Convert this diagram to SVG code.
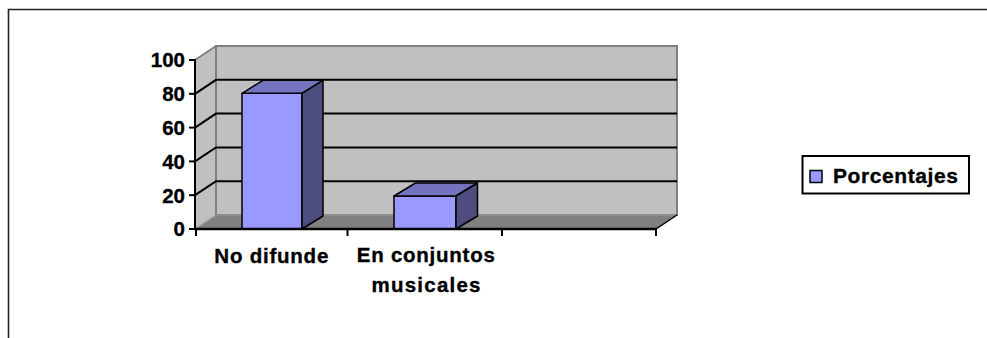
<svg xmlns="http://www.w3.org/2000/svg" width="987" height="338" viewBox="0 0 987 338">
<style>
  text { font-family: "Liberation Sans", Arial, sans-serif; font-weight: bold; font-size: 20.5px; fill: #000; stroke: #000; stroke-width: 0.35; }
  .ylab { text-anchor: end; }
  .clab { text-anchor: middle; }
  .grid { stroke: #000; stroke-width: 2; fill: none; }
  .edge { stroke: #000; stroke-width: 1.5; stroke-linejoin: round; }
  .front { fill: #9999FF; }
  .top { fill: #7373C0; }
  .side { fill: #4D4D80; }
  .tick { stroke: #000; stroke-width: 2; }
</style>
<rect width="987" height="338" fill="#fff"/>
<path d="M8.5,338 V9.5 H987" fill="none" stroke="#222" stroke-width="1.6"/>

<g id="plot-area">
  <polygon points="195,60 216,46 216,215 195,229" fill="#C0C0C0"/>
  <rect x="216" y="46" width="461" height="169" fill="#C0C0C0" stroke="#808080" stroke-width="2"/>
  <polygon points="195,229 656,229 677,215 216,215" fill="#808080"/>
  <line x1="216" y1="215" x2="677" y2="215" stroke="#9a9a9a" stroke-width="1"/>
  <line x1="195" y1="229" x2="216" y2="215" stroke="#a0a0a0" stroke-width="1.5"/>
  <line x1="195" y1="60" x2="216" y2="46" stroke="#808080" stroke-width="2"/>
  <g class="grid">
    <polyline points="195,93.8 216,79.8 677,79.8"/>
    <polyline points="195,127.6 216,113.6 677,113.6"/>
    <polyline points="195,161.4 216,147.4 677,147.4"/>
    <polyline points="195,195.2 216,181.2 677,181.2"/>
  </g>
  <line x1="656" y1="229" x2="677" y2="215" stroke="#000" stroke-width="1.5"/>
</g>

<g id="bar-no-difunde" class="edge">
  <rect class="front" x="242" y="93.3" width="60" height="135.7"/>
  <polygon class="top" points="242,93.3 302,93.3 323,80.3 263,80.3"/>
  <polygon class="side" points="302,93.3 323,80.3 323,216 302,229"/>
</g>

<g id="bar-en-conjuntos" class="edge">
  <rect class="front" x="394" y="196" width="62" height="33"/>
  <polygon class="top" points="394,196 456,196 477.5,183 415.5,183"/>
  <polygon class="side" points="456,196 477.5,183 477.5,216 456,229"/>
</g>

<g id="axes">
  <line x1="195" y1="59" x2="195" y2="230" stroke="#000" stroke-width="2"/>
  <line x1="194" y1="229" x2="657" y2="229" stroke="#000" stroke-width="2.5"/>
  <g class="tick">
    <line x1="189" y1="60" x2="195" y2="60"/>
    <line x1="189" y1="93.8" x2="195" y2="93.8"/>
    <line x1="189" y1="127.6" x2="195" y2="127.6"/>
    <line x1="189" y1="161.4" x2="195" y2="161.4"/>
    <line x1="189" y1="195.2" x2="195" y2="195.2"/>
    <line x1="189" y1="229" x2="195" y2="229"/>
    <line x1="196" y1="229" x2="196" y2="236"/>
    <line x1="347.5" y1="229" x2="347.5" y2="236"/>
    <line x1="502" y1="229" x2="502" y2="236"/>
    <line x1="656" y1="229" x2="656" y2="236"/>
  </g>
  <text class="ylab" x="185" y="67.4">100</text>
  <text class="ylab" x="185" y="101.2">80</text>
  <text class="ylab" x="185" y="135">60</text>
  <text class="ylab" x="185" y="168.8">40</text>
  <text class="ylab" x="185" y="202.6">20</text>
  <text class="ylab" x="185" y="236.4">0</text>
  <text class="clab" x="271.3" y="262.7" textLength="114" lengthAdjust="spacing">No difunde</text>
  <text class="clab" x="425.8" y="262" textLength="138" lengthAdjust="spacing">En conjuntos</text>
  <text class="clab" x="426" y="291.5" textLength="109" lengthAdjust="spacing">musicales</text>
</g>

<g id="legend">
  <rect x="802.5" y="156" width="166.5" height="37.5" fill="#fff" stroke="#000" stroke-width="2"/>
  <rect x="810" y="170.5" width="12" height="12" fill="#9999FF" stroke="#000" stroke-width="1.5"/>
  <text x="833" y="183.3" textLength="125" lengthAdjust="spacing" style="font-size:21px">Porcentajes</text>
</g>
</svg>
